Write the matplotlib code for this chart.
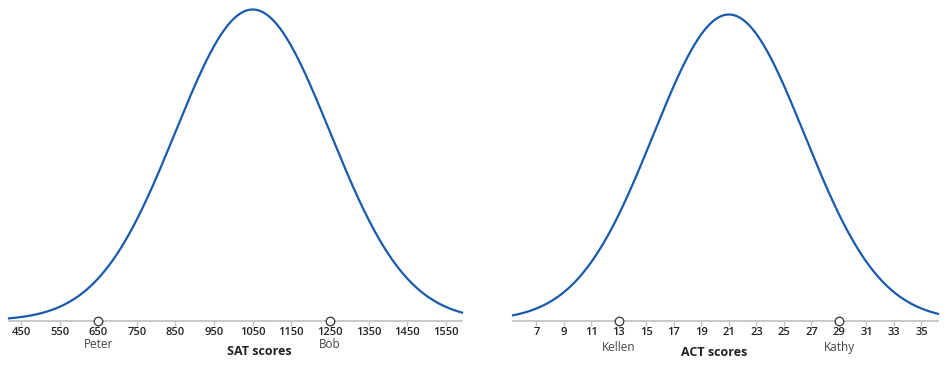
import numpy as np
import matplotlib
matplotlib.use('Agg')
import matplotlib.pyplot as plt

plt.rcParams['font.family'] = ['Open Sans', 'DejaVu Sans']

# SAT distribution and students
sat_mean = 1050
sat_sd = 200
sat_range = (419, 1592)
sat_ticks = list(range(450, 1551, 100))
sat_names = ['Peter', 'Bob']
sat_scores = [650, 1250]

# ACT distribution and students
act_mean = 21
act_sd = 5.5
act_range = (5.3, 36.2)
act_ticks = list(range(7, 36, 2))
act_names = ['Kellen', 'Kathy']
act_scores = [13, 29]

line_color = '#1a5aab'
axis_color = '#c4c4c4'

fig = plt.figure(figsize=(9.5, 3.65), dpi=100)
bottom = 1 - 320.5 / 365
height = 311 / 365
ax1 = fig.add_axes([9 / 950, bottom, 453 / 950, height])
ax2 = fig.add_axes([513 / 950, bottom, 425 / 950, height])


def pdf(x, m, s):
    return np.exp(-0.5 * ((x - m) / s) ** 2) / (s * np.sqrt(2 * np.pi))


def draw(ax, mean, sd, xr, ticks, names, scores, label, label_x, name_off, label_off, top_scale):
    x = np.linspace(xr[0], xr[1], 600)
    y = pdf(x, mean, sd)
    ax.plot(x, y, color=line_color, lw=1.6, clip_on=False)
    ax.set_xlim(xr)
    ax.set_ylim(0, pdf(mean, mean, sd) * top_scale)

    for s in ['top', 'left', 'right']:
        ax.spines[s].set_visible(False)
    ax.spines['bottom'].set_color(axis_color)
    ax.spines['bottom'].set_linewidth(1.3)
    ax.set_yticks([])
    ax.set_xticks(ticks)
    ax.set_xticklabels([str(t) for t in ticks], fontsize=8, fontweight='semibold', color='#222222')
    ax.tick_params(axis='x', length=3.5, width=1, color=axis_color, pad=1.5)

    ax.scatter(scores, [0] * len(scores), s=38, facecolors='white', edgecolors='#333333',
               linewidths=0.9, zorder=5, clip_on=False)
    for n, sc in zip(names, scores):
        ax.annotate(n, xy=(sc, 0), xytext=(0, -name_off), textcoords='offset points',
                    ha='center', va='center', fontsize=8.5, color='#444444', annotation_clip=False)
    ax.annotate(label, xy=(label_x, 0), xytext=(0, -label_off), textcoords='offset points',
                ha='center', va='center', fontsize=9, fontweight='bold', color='#222222',
                annotation_clip=False)


draw(ax1, sat_mean, sat_sd, sat_range, sat_ticks, sat_names, sat_scores,
     'SAT scores', 1068, 17.0, 22.0, 1.0)
draw(ax2, act_mean, act_sd, act_range, act_ticks, act_names, act_scores,
     'ACT scores', 19.95, 19.6, 22.7, 311 / 306)

plt.savefig('out.png', dpi=100)
